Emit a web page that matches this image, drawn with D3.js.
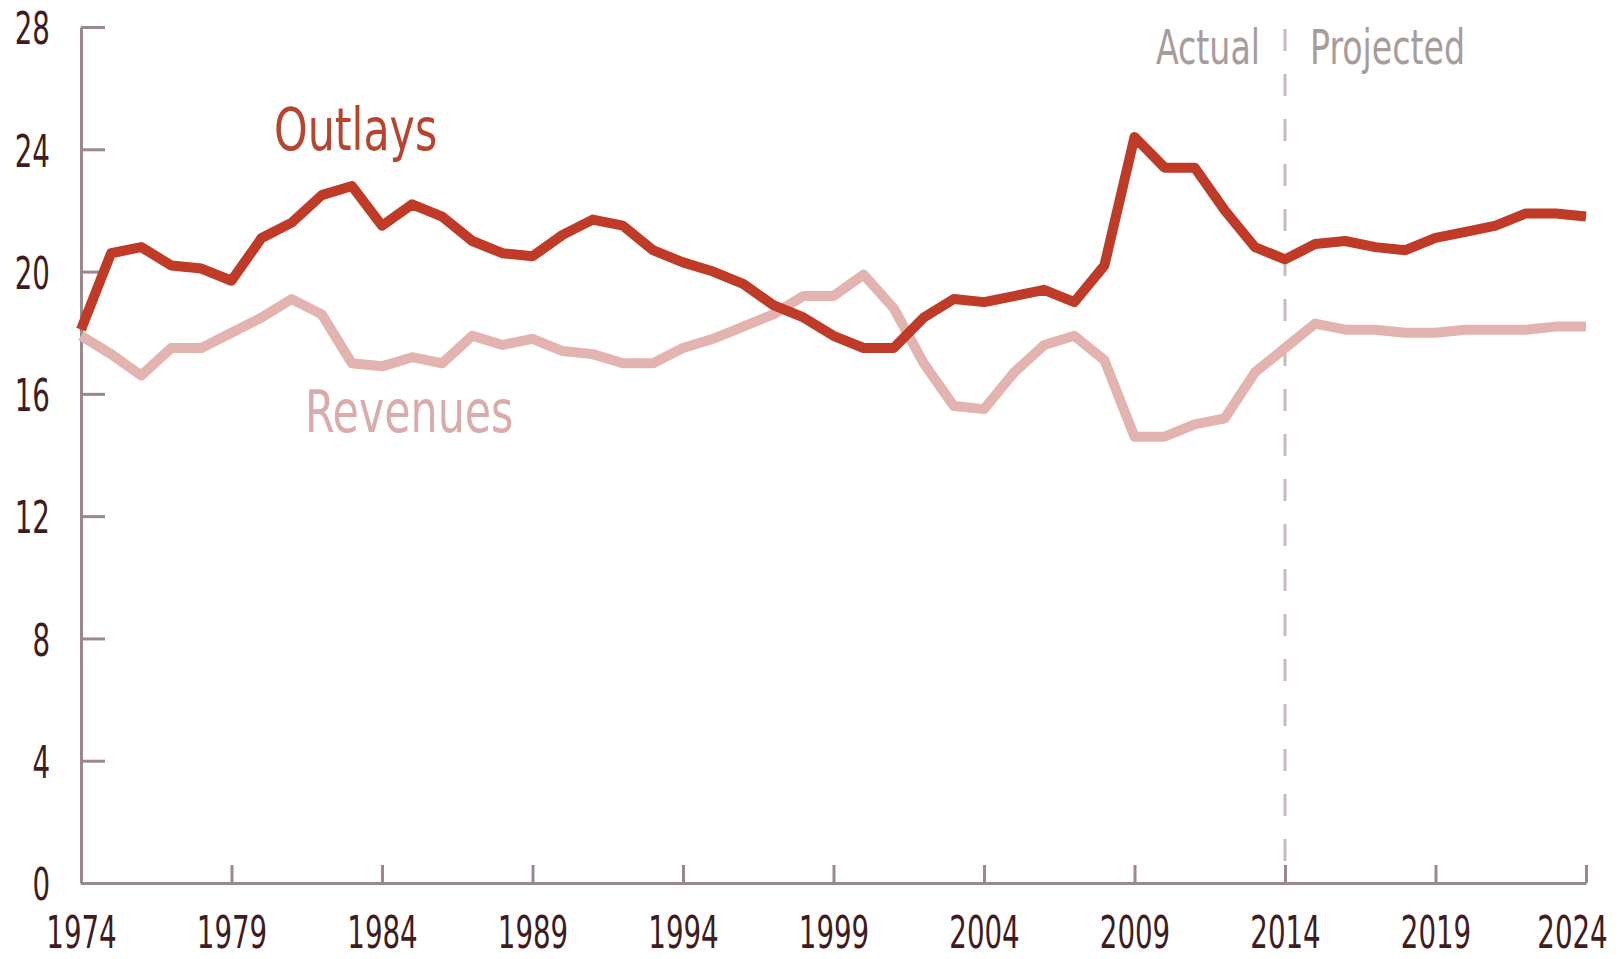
<!DOCTYPE html>
<html>
<head>
<meta charset="utf-8">
<script src="https://cdn.jsdelivr.net/npm/d3@7"></script>
<style>
  body { margin: 0; background: #fff; }
  svg text { font-family: "DejaVu Sans Condensed", "DejaVu Sans", sans-serif; }
</style>
</head>
<body>
<svg id="chart" width="1620" height="959"></svg>
<script>
// years 1974-2024, percent of GDP
const years = d3.range(1974, 2025);
const outlays = [18.1, 20.6, 20.8, 20.2, 20.1, 19.7, 21.1, 21.6, 22.5, 22.8,
  21.5, 22.2, 21.8, 21.0, 20.6, 20.5, 21.2, 21.7, 21.5, 20.7,
  20.3, 20.0, 19.6, 18.9, 18.5, 17.9, 17.5, 17.5, 18.5, 19.1,
  19.0, 19.2, 19.4, 19.0, 20.2, 24.4, 23.4, 23.4, 22.0, 20.8,
  20.4, 20.9, 21.0, 20.8, 20.7, 21.1, 21.3, 21.5, 21.9, 21.9, 21.8];
const revenues = [17.9, 17.3, 16.6, 17.5, 17.5, 18.0, 18.5, 19.1, 18.6, 17.0,
  16.9, 17.2, 17.0, 17.9, 17.6, 17.8, 17.4, 17.3, 17.0, 17.0,
  17.5, 17.8, 18.2, 18.6, 19.2, 19.2, 19.9, 18.8, 17.0, 15.6,
  15.5, 16.7, 17.6, 17.9, 17.1, 14.6, 14.6, 15.0, 15.2, 16.7,
  17.5, 18.3, 18.1, 18.1, 18.0, 18.0, 18.1, 18.1, 18.1, 18.2, 18.2];
const yTicks = [0, 4, 8, 12, 16, 20, 24, 28];
const xTicks = [1974, 1979, 1984, 1989, 1994, 1999, 2004, 2009, 2014, 2019, 2024];
const splitYear = 2014;

const svg = d3.select("#chart");
const margin = { top: 27, right: 34, bottom: 76, left: 81 };
const width = 1620, height = 959;
const squeeze = 0.7; // condensed look for tick digits

const x = d3.scaleLinear().domain([1974, 2024]).range([margin.left, width - margin.right]);
const y = d3.scaleLinear().domain([0, 28]).range([height - margin.bottom, margin.top]);

const axisColor = "#9c888a";
const labelColor = "#3e1c22";

// y axis, ticks pointing inward
const yAxis = svg.append("g")
  .attr("transform", `translate(${margin.left},0)`)
  .call(d3.axisRight(y).tickValues(yTicks).tickSize(24).tickSizeOuter(0).tickFormat(d3.format("d")));
yAxis.select(".domain").attr("stroke", axisColor).attr("stroke-width", 3);
yAxis.selectAll(".tick line").attr("stroke", axisColor).attr("stroke-width", 3);
yAxis.selectAll(".tick text")
  .attr("x", -31 / squeeze).attr("dy", "0.38em")
  .attr("transform", `scale(${squeeze},1)`)
  .attr("text-anchor", "end")
  .attr("fill", labelColor)
  .style("font-size", "44px");

// x axis, ticks pointing up
const xAxis = svg.append("g")
  .attr("transform", `translate(0,${y(0)})`)
  .call(d3.axisTop(x).tickValues(xTicks).tickSize(18).tickSizeOuter(0).tickFormat(d3.format("d")));
xAxis.select(".domain").attr("stroke", axisColor).attr("stroke-width", 3);
xAxis.selectAll(".tick line").attr("stroke", axisColor).attr("stroke-width", 3);
xAxis.selectAll(".tick text")
  .attr("y", 65).attr("dy", 0)
  .attr("x", d => d === 2024 ? -14 / squeeze : 0)
  .attr("transform", `scale(${squeeze},1)`)
  .attr("fill", labelColor)
  .style("font-size", "44px");

// actual / projected divider
svg.append("line")
  .attr("x1", x(splitYear)).attr("x2", x(splitYear))
  .attr("y1", y(28) + 2).attr("y2", y(0))
  .attr("stroke", "#cbb9b7")
  .attr("stroke-width", 3)
  .attr("stroke-dasharray", "22,23");

const noteSqueeze = 0.77;
svg.append("text")
  .attr("transform", `translate(${x(splitYear) - 25},64) scale(${noteSqueeze},1)`)
  .attr("text-anchor", "end")
  .attr("fill", "#a89c9b")
  .style("font-size", "48px")
  .text("Actual");
svg.append("text")
  .attr("transform", `translate(${x(splitYear) + 25},64) scale(${noteSqueeze},1)`)
  .attr("fill", "#a89c9b")
  .style("font-size", "48px")
  .text("Projected");

const line = d3.line()
  .x((d, i) => x(years[i]))
  .y(d => y(d));

svg.append("path")
  .datum(revenues)
  .attr("fill", "none")
  .attr("stroke", "#e2b3af")
  .attr("stroke-width", 10)
  .attr("stroke-linejoin", "round")
  .attr("d", line);

svg.append("path")
  .datum(outlays)
  .attr("fill", "none")
  .attr("stroke", "#c03a28")
  .attr("stroke-width", 10)
  .attr("stroke-linejoin", "round")
  .attr("d", line);

const labelSqueeze = 0.82;
svg.append("text")
  .attr("transform", `translate(274,150) scale(${labelSqueeze},1)`)
  .attr("fill", "#b8432f")
  .style("font-size", "58px")
  .text("Outlays");

svg.append("text")
  .attr("transform", `translate(305,432) scale(${labelSqueeze},1)`)
  .attr("fill", "#d9abaa")
  .style("font-size", "58px")
  .text("Revenues");
</script>
</body>
</html>
